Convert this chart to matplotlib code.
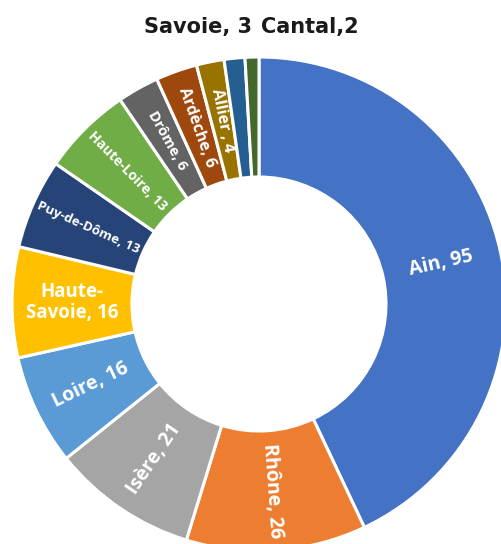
import numpy as np
import matplotlib.pyplot as plt

# Departments and counts
departements = ['Ain', 'Rhône', 'Isère', 'Loire', 'Haute-Savoie', 'Puy-de-Dôme',
                'Haute-Loire', 'Drôme', 'Ardèche', 'Allier', 'Savoie', 'Cantal']
valeurs = [95, 26, 21, 16, 16, 13, 13, 6, 6, 4, 3, 2]
etiquettes = ['Ain, 95', 'Rhône, 26', 'Isère, 21', 'Loire, 16', 'Haute-\nSavoie, 16',
              'Puy-de-Dôme, 13', 'Haute-Loire, 13', 'Drôme, 6', 'Ardèche, 6',
              'Allier , 4', 'Savoie, 3', 'Cantal,2']
couleurs = ['#4472C4', '#ED7D31', '#A5A5A5', '#5B9BD5', '#FFC000', '#264478',
            '#70AD47', '#636363', '#9E480E', '#997300', '#255E91', '#43682B']
tailles = [14, 14, 14, 14, 13.5, 9.5, 10, 10.5, 11.5, 11.5, None, None]

R = 247
W = 120

fig = plt.figure(figsize=(5.01, 5.44), dpi=100)
ax = fig.add_axes([0, 0, 1, 1])

wedges, _ = ax.pie(valeurs, colors=couleurs, startangle=90, counterclock=False,
                   radius=R, wedgeprops=dict(width=W, edgecolor='white', linewidth=2.2))

r_lab = R - W / 2
for w, lab, size in zip(wedges, etiquettes, tailles):
    if size is None:
        continue
    mid = (w.theta1 + w.theta2) / 2
    mid = (mid + 180) % 360 - 180
    x = r_lab * np.cos(np.radians(mid))
    y = r_lab * np.sin(np.radians(mid))
    if -95 <= mid <= 95:
        rot = mid
    else:
        rot = mid - 180 if mid > 0 else mid + 180
    if lab.startswith('Haute-\n'):
        rot = 0
    ax.text(x, y, lab, rotation=rot, rotation_mode='anchor', ha='center', va='center',
            color='white', fontsize=size, fontweight='bold', family='Open Sans',
            linespacing=1.1)

# small slices are labelled above the ring
ax.text(-61, 277, etiquettes[10], ha='center', va='center', fontsize=15,
        fontweight='bold', family='DejaVu Sans', color='#1a1a1a')
ax.text(51, 277, etiquettes[11], ha='center', va='center', fontsize=15,
        fontweight='bold', family='DejaVu Sans', color='#1a1a1a')

ax.set_xlim(-259, 242)
ax.set_ylim(-240, 304)
ax.set_aspect('equal')
ax.axis('off')

fig.savefig('out.png', dpi=100)
